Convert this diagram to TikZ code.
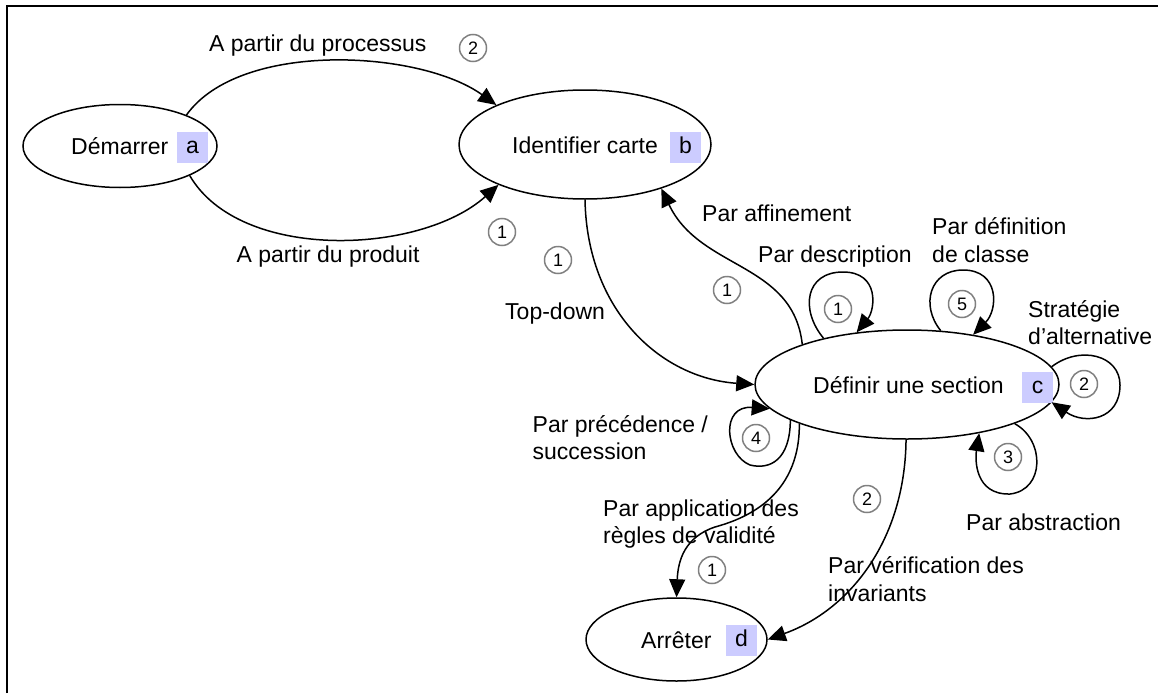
\documentclass[tikz,border=0pt]{standalone}
\usepackage{fontspec}
\setmainfont{Liberation Sans}
\usetikzlibrary{arrows.meta,shapes.geometric}
\definecolor{boxlav}{RGB}{204,204,255}
\definecolor{circgray}{RGB}{128,128,128}
\begin{document}
\begin{tikzpicture}[x=1pt,y=-1pt,
  state/.style={draw, ellipse, line width=1.5pt, inner sep=0pt},
  lbl/.style={anchor=base west, inner sep=0pt, font=\fontsize{23}{27.5}\selectfont},
  tag/.style={fill=boxlav, minimum width=31pt, minimum height=31pt, inner sep=0pt,
    text height=12pt, text depth=0pt, font=\fontsize{23}{27.5}\selectfont},
  num/.style={draw=circgray, circle, line width=1.5pt, minimum size=27pt, inner sep=0pt,
    font=\fontsize{18}{20}\selectfont},
  conn/.style={line width=1.5pt, -{Triangle[length=18pt,width=16pt]}},
]
\useasboundingbox (0,0) rectangle (1158,693);
% frame
\coordinate (fbl) at (7,693);
\coordinate (ftl) at (7,6);
\coordinate (ftr) at (1158,6);
\draw[line width=2pt] (fbl) -- (ftl) -- (ftr);

% states
\node[state, minimum width=194pt, minimum height=83pt] (a) at (120,146) {};
\node[state, minimum width=252pt, minimum height=109pt] (b) at (585,144.5) {};
\node[state, minimum width=304pt, minimum height=109pt] (c) at (907,384.5) {};
\node[state, minimum width=181pt, minimum height=83pt] (d) at (676.5,639.5) {};

\node[lbl] (ta) at (71,154) {Démarrer};
\node[lbl] (tb) at (512,153) {Identifier carte};
\node[lbl] (tc) at (813,393) {Définir une section};
\node[lbl] (td) at (641,648) {Arrêter};

\node[tag] (ba) at (192.5,147.5) {a};
\node[tag] (bb) at (685.5,147.5) {b};
\node[tag] (bc) at (1037.5,387) {c};
\node[tag] (bd) at (741.5,640.5) {d};

% connectors
\draw[conn] (a.25) .. controls (240,40) and (420,50) .. (b.156);
\draw[conn] (a.-23) .. controls (240,262) and (420,255) .. (b.205);
\draw[conn] (b.270) .. controls (587,310) and (660,378) .. (c.180);
\draw[conn] (c.159) .. controls (793,262) and (700,270) .. (b.-30);
% self loops on c
\draw[conn] (c.151) .. controls (800,310) and (805,272) .. (843,272)
  .. controls (880,272) and (875,310) .. (c.134);
\draw[conn] (c.58) .. controls (920,305) and (930,270) .. (963,270)
  .. controls (1000,270) and (998,310) .. (c.37);
\draw[conn] (c.7) .. controls (1080,345) and (1120,355) .. (1120,385)
  .. controls (1120,420) and (1085,425) .. (c.-7);
\draw[conn] (c.-20) .. controls (1045,440) and (1045,490) .. (1010,494)
  .. controls (975,495) and (975,460) .. (c.-34);
\draw[conn] (c.197) .. controls (790,460) and (770,470) .. (750,465)
  .. controls (725,455) and (720,405) .. (c.190);
% to d
\draw[conn] (c.200) .. controls (800,500) and (740,520) .. (715,527)
  .. controls (685,537) and (678,560) .. (d.90);
\draw[conn] (c.269) .. controls (905,540) and (850,610) .. (d.0);

% labels
\node[lbl] (l1) at (209,52) {A partir du processus};
\node[lbl] (l2) at (236.5,262) {A partir du produit};
\node[lbl] (l3) at (505,319) {Top-down};
\node[lbl] (l4) at (702,221) {Par affinement};
\node[lbl] (l5) at (758,262) {Par description};
\node[lbl] (l6a) at (932,234) {Par définition};
\node[lbl] (l6b) at (932,262) {de classe};
\node[lbl] (l7a) at (1028,317) {Stratégie};
\node[lbl] (l7b) at (1028,344) {d’alternative};
\node[lbl] (l8a) at (532.5,432) {Par précédence /};
\node[lbl] (l8b) at (532.5,459) {succession};
\node[lbl] (l9a) at (603,516) {Par application des};
\node[lbl] (l9b) at (603,543) {règles de validité};
\node[lbl] (l10a) at (828,573) {Par vérification des};
\node[lbl] (l10b) at (828,601) {invariants};
\node[lbl] (l11) at (966,530) {Par abstraction};

% circled numbers
\node[num] (n1) at (473,48) {2};
\node[num] (n2) at (502,232) {1};
\node[num] (n3) at (558,260) {1};
\node[num] (n4) at (727,290) {1};
\node[num] (n5) at (838,309) {1};
\node[num] (n6) at (962,304) {5};
\node[num] (n7) at (1084,384) {2};
\node[num] (n8) at (1008,457) {3};
\node[num] (n9) at (756,438) {4};
\node[num] (n10) at (712,570) {1};
\node[num] (n11) at (867,499) {2};
\end{tikzpicture}
\end{document}
